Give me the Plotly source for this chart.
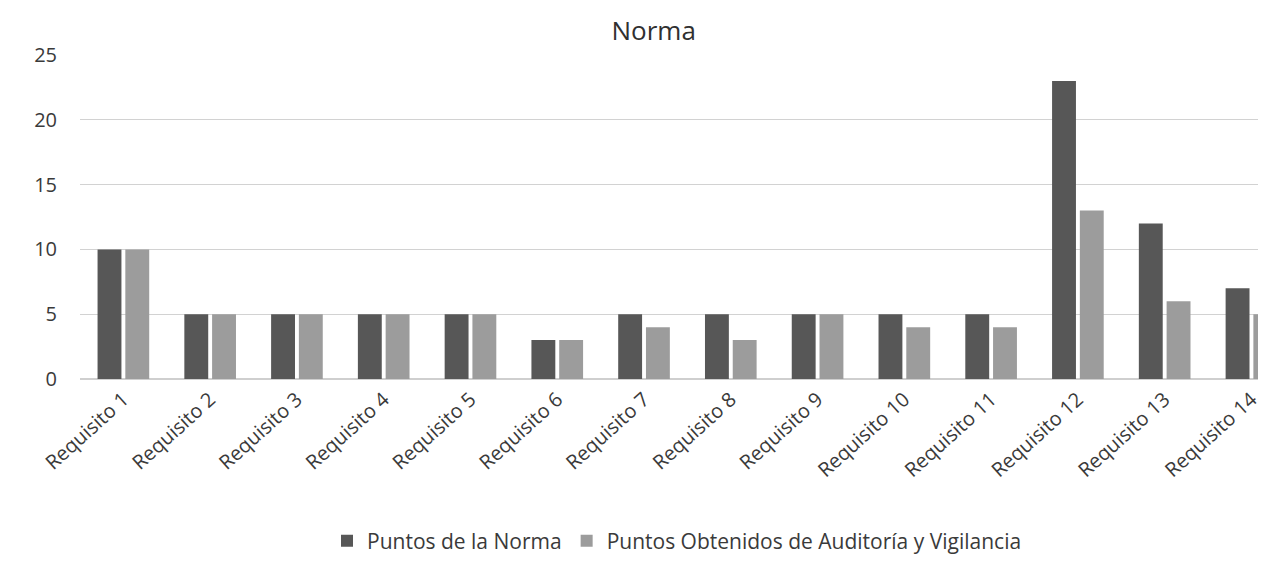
import plotly.graph_objects as go

categorias = [f"Requisito {i}" for i in range(1, 15)]
puntos_norma = [10, 5, 5, 5, 5, 3, 5, 5, 5, 5, 5, 23, 12, 7]
puntos_obtenidos = [10, 5, 5, 5, 5, 3, 4, 3, 5, 4, 4, 13, 6, 5]
y_ticks = [0, 5, 10, 15, 20, 25]

FONT = "Open Sans"

fig = go.Figure()
fig.add_trace(go.Bar(x=categorias, y=puntos_norma, name="Puntos de la Norma",
                     marker=dict(color="#575757", line=dict(width=0))))
fig.add_trace(go.Bar(x=categorias, y=puntos_obtenidos,
                     name="Puntos Obtenidos de Auditoría y Vigilancia",
                     marker=dict(color="#9c9c9c", line=dict(width=0))))

fig.update_layout(
    width=1266, height=569,
    paper_bgcolor="white", plot_bgcolor="white",
    margin=dict(l=72, r=0, t=47, b=198),
    barmode="group", bargap=0.36, bargroupgap=0.14,
    font=dict(family=FONT, color="#3a3a3a", size=19),
    title=dict(text="Norma", x=0.51, xanchor="center", y=0.975, yanchor="top",
               pad=dict(t=0, b=0),
               font=dict(family=FONT, size=26, color="#303030")),
    showlegend=True,
    legend=dict(orientation="h", x=0.50, xanchor="center", y=-0.50, yanchor="middle",
                font=dict(family=FONT, size=21, color="#3a3a3a"),
                itemwidth=30, traceorder="normal"),
    xaxis=dict(range=[-0.5, 13.26], tickangle=-42, showgrid=False,
               showline=True, linecolor="#cfcfcf", ticks="",
               tickfont=dict(family=FONT, size=20, color="#3a3a3a")),
    yaxis=dict(range=[0, 25], tickvals=y_ticks, showgrid=True, gridcolor="#d2d2d2",
               gridwidth=1, zeroline=True, zerolinecolor="#cfcfcf", showline=False,
               ticks="", ticklabelstandoff=22,
               tickfont=dict(family=FONT, size=20, color="#3a3a3a")),
)

fig.write_html("out.html")
